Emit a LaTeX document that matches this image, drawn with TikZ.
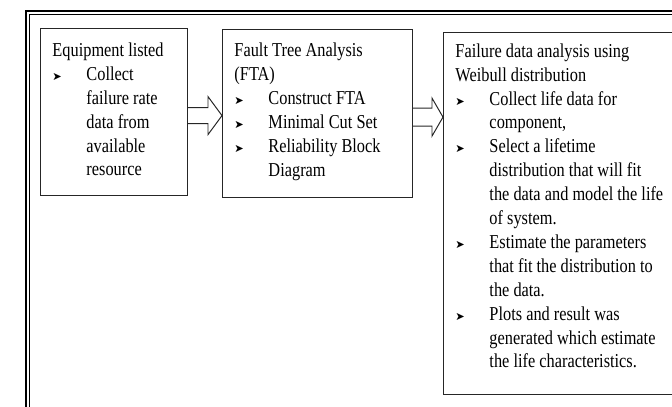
\documentclass[tikz,border=0pt]{standalone}
\usepackage{fontspec}
\setmainfont{Liberation Serif}[FakeStretch=0.83]
\newfontfamily\symfont{DejaVu Sans}
\usetikzlibrary{calc}

% bullet of the lists
\newcommand{\mk}{{\symfont\fontsize{8}{8}\selectfont ➤}}

\tikzset{
	stagebox/.style={draw=black!85, line width=0.7pt, anchor=north west,
		inner xsep=0.3cm, inner ysep=0pt, font=\fontsize{14}{17}\selectfont},
	blockarrow/.style={draw=black!85, line width=0.7pt, line join=miter}
}

% open block arrow from the east side of #1 to the west side of #2
\newcommand{\flowarrow}[4]{%
	\path (#1.east) ++(0,-0.09) coordinate (s) (#2.west |- s) coordinate (t);
	\draw[blockarrow]	($(s)+(0,#3)$) -- ($(t)+(-#4,#3)$) -- ($(t)+(-#4,0.475)$) -- (t)
						-- ($(t)+(-#4,-0.475)$) -- ($(t)+(-#4,-#3)$) -- ($(s)+(0,-#3)$);
}

\begin{document}
\begin{tikzpicture}
		\useasboundingbox (0,0) rectangle (16.8,-10.15);
		\clip (0,0) rectangle (16.8,-10.15);

		% double frame
		\draw[line width=1.6pt]	(0.655,-0.28) rectangle (17.5,-10.6);
		\draw[line width=0.6pt]	(0.74,-0.37) rectangle (17.5,-10.6);

		\node[stagebox] (equip) at (1.0,-0.7) {\parbox[c][4.175cm][t]{3.075cm}{\vspace*{0.28cm}%
			\begin{tabular}{@{}p{0.85cm}@{}l@{}}
				\multicolumn{2}{@{}l@{}}{Equipment listed}\\
				\mk	& Collect\\
					& failure rate\\
					& data from\\
					& available\\
					& resource
			\end{tabular}}};

		\node[stagebox] (fta) at (5.55,-0.725) {\parbox[c][4.2cm][t]{4.15cm}{\vspace*{0.26cm}%
			\begin{tabular}{@{}p{0.85cm}@{}l@{}}
				\multicolumn{2}{@{}l@{}}{Fault Tree Analysis}\\
				\multicolumn{2}{@{}l@{}}{(FTA)}\\
				\mk	& Construct FTA\\
				\mk	& Minimal Cut Set\\
				\mk	& Reliability Block\\
					& Diagram
			\end{tabular}}};

		\node[stagebox] (weibull) at (11.075,-0.8) {\parbox[c][9.05cm][t]{5.6cm}{\vspace*{0.2cm}%
			\begin{tabular}{@{}p{0.85cm}@{}l@{}}
				\multicolumn{2}{@{}l@{}}{Failure data analysis using}\\
				\multicolumn{2}{@{}l@{}}{Weibull distribution}\\
				\mk	& Collect life data for\\
					& component,\\
				\mk	& Select a lifetime\\
					& distribution that will fit\\
					& the data and model the life\\
					& of system.\\
				\mk	& Estimate the parameters\\
					& that fit the distribution to\\
					& the data.\\
				\mk	& Plots and result was\\
					& generated which estimate\\
					& the life characteristics.
			\end{tabular}}};

		\flowarrow{equip}{fta}{0.2}{0.35}
		\flowarrow{fta}{weibull}{0.225}{0.275}
	\end{tikzpicture}
\end{document}
